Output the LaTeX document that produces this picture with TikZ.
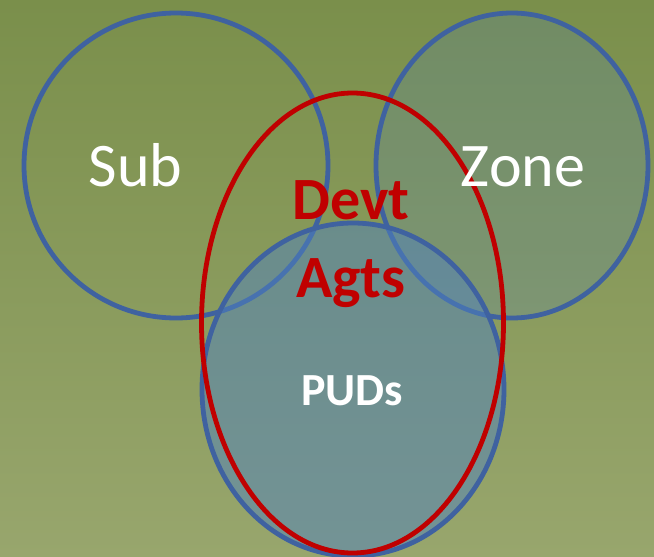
\documentclass[tikz,border=0pt]{standalone}
\usepackage{fontspec}
\setmainfont{Carlito}
\usetikzlibrary{shapes.geometric}
\definecolor{bgtop}{HTML}{7A8F4B}
\definecolor{bgbot}{HTML}{98A66D}
\definecolor{ringblue}{HTML}{3F62A0}
\definecolor{fillblue}{RGB}{80,130,190}
\definecolor{devred}{HTML}{C00000}
\tikzset{
  ring/.style={ellipse, draw=ringblue, line width=4.8pt, inner sep=0pt, outer sep=0pt},
  redring/.style={ellipse, draw=devred, line width=4.8pt, inner sep=0pt, outer sep=0pt},
  lbl/.style={anchor=base, text=white, inner sep=0pt},
}
\begin{document}
\begin{tikzpicture}[x=1pt,y=-1pt]
\useasboundingbox (0,0) rectangle (654,557);
\shade[top color=bgtop, bottom color=bgbot] (0,0) rectangle (654,557);
\node[ring, minimum width=304pt, minimum height=305pt] (sub) at (176,165.5) {};
\node[ring, fill=fillblue, fill opacity=0.22, minimum width=272pt, minimum height=305pt] (zone) at (512,165.5) {};
\node[ring, fill=fillblue, fill opacity=0.5, minimum width=302pt, minimum height=333pt] (puds) at (353,389.5) {};
\node[redring, minimum width=302pt, minimum height=460pt] (devt) at (352.5,323) {};
\node[lbl, font=\fontsize{62}{62}\selectfont] (tsub) at (135.5,186) {Sub};
\node[lbl, font=\fontsize{62}{62}\selectfont] (tzone) at (523,186) {Zone};
\node[lbl, text=devred, font=\bfseries\fontsize{60}{60}\selectfont] (tdevt) at (351,219) {Devt};
\node[lbl, text=devred, font=\bfseries\fontsize{60}{60}\selectfont] (tagts) at (351,297) {Agts};
\node[lbl, font=\bfseries\fontsize{46}{46}\selectfont] (tpuds) at (352,405) {PUDs};
\end{tikzpicture}
\end{document}
